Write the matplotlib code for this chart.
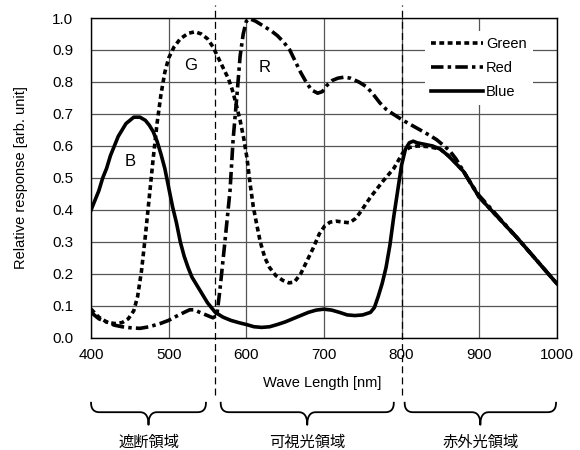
import matplotlib
matplotlib.use("Agg")
import matplotlib.pyplot as plt
import matplotlib.transforms as mtransforms
import numpy as np

plt.rcParams['font.family'] = ['Liberation Sans', 'Noto Sans CJK JP', 'DejaVu Sans']
plt.rcParams['lines.scale_dashes'] = False

# Courbes
wl_blue = [400, 405, 410, 415, 420, 425, 430, 435, 440, 445, 450, 455, 463, 470, 475,
           480, 485, 490, 495, 500, 505, 510, 515, 520, 525, 530, 540, 550, 560, 570,
           580, 590, 600, 610, 620, 630, 640, 650, 660, 670, 680, 690, 700, 710, 720,
           730, 740, 750, 760, 765, 770, 775, 780, 785, 790, 795, 800, 805, 810, 815,
           820, 830, 840, 850, 860, 870, 880, 890, 900, 925, 950, 975, 1000]
blue = [0.40, 0.43, 0.46, 0.50, 0.53, 0.57, 0.60, 0.63, 0.65, 0.67, 0.68, 0.69, 0.69,
        0.68, 0.665, 0.645, 0.615, 0.575, 0.53, 0.47, 0.41, 0.36, 0.30, 0.255, 0.22,
        0.19, 0.15, 0.11, 0.08, 0.065, 0.055, 0.048, 0.042, 0.035, 0.033, 0.035, 0.042,
        0.05, 0.06, 0.07, 0.08, 0.087, 0.09, 0.087, 0.08, 0.072, 0.07, 0.072, 0.08,
        0.095, 0.13, 0.17, 0.22, 0.29, 0.38, 0.46, 0.54, 0.59, 0.61, 0.615, 0.61,
        0.605, 0.60, 0.59, 0.57, 0.545, 0.52, 0.48, 0.44, 0.375, 0.31, 0.24, 0.17]

wl_green = [400, 410, 420, 430, 440, 448, 455, 460, 465, 470, 475, 480, 485, 490, 495,
            500, 507, 515, 525, 534, 542, 550, 557, 563, 570, 577, 582, 587, 592, 597,
            601, 605, 609, 613, 618, 624, 630, 638, 647, 655, 662, 670, 678, 686, 694,
            701, 708, 716, 725, 733, 740, 746, 753, 760, 768, 776, 783, 790, 796, 802,
            810, 820, 835, 850, 865, 880, 900, 950, 1000]
green = [0.09, 0.065, 0.05, 0.045, 0.048, 0.06, 0.085, 0.13, 0.21, 0.32, 0.44, 0.56,
         0.67, 0.76, 0.83, 0.875, 0.91, 0.935, 0.952, 0.957, 0.95, 0.935, 0.91, 0.88,
         0.845, 0.81, 0.775, 0.73, 0.68, 0.62, 0.56, 0.48, 0.41, 0.36, 0.30, 0.25,
         0.22, 0.195, 0.18, 0.172, 0.175, 0.20, 0.24, 0.28, 0.325, 0.35, 0.362, 0.365,
         0.362, 0.36, 0.372, 0.39, 0.415, 0.44, 0.465, 0.49, 0.51, 0.53, 0.555, 0.58,
         0.595, 0.60, 0.598, 0.59, 0.56, 0.52, 0.44, 0.31, 0.17]

wl_red = [400, 410, 420, 430, 440, 450, 463, 475, 489, 500, 510, 520, 527, 533, 540,
          550, 557, 562, 566, 572, 579, 583, 588, 592, 596, 600, 604, 612, 622, 632,
          640, 648, 656, 663, 670, 677, 684, 692, 698, 704, 711, 718, 726, 734, 745,
          755, 764, 772, 780, 789, 802, 813, 824, 835, 845, 855, 862, 870, 880, 890,
          900, 950, 1000]
red = [0.08, 0.06, 0.05, 0.04, 0.035, 0.032, 0.03, 0.035, 0.045, 0.055, 0.068, 0.08,
       0.088, 0.088, 0.08, 0.07, 0.063, 0.07, 0.15, 0.29, 0.46, 0.62, 0.76, 0.88, 0.95,
       0.99, 0.998, 0.99, 0.975, 0.96, 0.945, 0.925, 0.90, 0.865, 0.83, 0.80, 0.775,
       0.765, 0.77, 0.79, 0.805, 0.812, 0.815, 0.812, 0.80, 0.785, 0.76, 0.735, 0.715,
       0.70, 0.68, 0.665, 0.65, 0.635, 0.62, 0.60, 0.585, 0.56, 0.52, 0.48, 0.445,
       0.31, 0.17]

limites = [560, 800]
regions = [(400, 548, "遮断領域"), (567, 790, "可視光領域"), (804, 999, "赤外光領域")]

fig = plt.figure(figsize=(5.8, 4.5), dpi=100)
ax = fig.add_axes([0.157, 0.249, 0.803, 0.711])

ax.plot(wl_green, green, color='black', lw=2.6, linestyle=(0, (3.5, 2.5)), label='Green')
ax.plot(wl_red, red, color='black', lw=2.6, linestyle=(0, (9, 3, 2.5, 3)), label='Red')
ax.plot(wl_blue, blue, color='black', lw=2.6, label='Blue')

ax.set_xlim(400, 1000)
ax.set_ylim(0, 1.0)
ax.set_xticks(np.arange(400, 1001, 100))
ax.set_yticks(np.arange(0, 1.01, 0.1))
ax.set_yticklabels([f"{v:.1f}" for v in np.arange(0, 1.01, 0.1)])
ax.tick_params(length=0, labelsize=11)
ax.tick_params(axis='x', pad=7)
ax.tick_params(axis='y', pad=13)
ax.grid(True, color='#555555', lw=0.9)
for s in ax.spines.values():
    s.set_linewidth(1.0)

ax.set_xlabel("Wave Length [nm]", fontsize=10.5)
ax.xaxis.set_label_coords(0.496, -0.12)
ax.set_ylabel("Relative response [arb. unit]", fontsize=10.5)
ax.yaxis.set_label_coords(-0.135, 0.5)

# lettres B G R
ax.text(450, 0.55, "B", fontsize=12, ha='center', va='center')
ax.text(528, 0.85, "G", fontsize=12, ha='center', va='center')
ax.text(624, 0.845, "R", fontsize=12, ha='center', va='center')

leg = ax.legend(loc='upper left', bbox_to_anchor=(0.717, 0.96), fontsize=10.5,
                handlelength=3.6, handletextpad=0.2, labelspacing=0.7,
                frameon=True, fancybox=False, borderpad=0.4, borderaxespad=0)
leg.get_frame().set_edgecolor('none')
leg.get_frame().set_facecolor('white')
leg.get_frame().set_alpha(1)

# lignes verticales hors axes
trans = mtransforms.blended_transform_factory(ax.transData, ax.transAxes)
for xv in limites:
    ax.plot([xv, xv], [-0.178, 1.04], transform=trans, color='black', lw=0.9,
            linestyle=(0, (5, 3)), clip_on=False, zorder=5)

# accolades
ftrans = mtransforms.blended_transform_factory(ax.transData, fig.transFigure)
def accolade(x0, x1, texte):
    yt, ym, yb = 0.105, 0.084, 0.056
    r = 11
    xc = (x0 + x1) / 2
    t = np.linspace(0, 1, 20)
    def bez(p0, p1, p2):
        return ((1-t)**2*p0[0] + 2*(1-t)*t*p1[0] + t**2*p2[0],
                (1-t)**2*p0[1] + 2*(1-t)*t*p1[1] + t**2*p2[1])
    segs = [bez((x0, yt), (x0, ym), (x0 + r, ym)),
            (np.array([x0 + r, xc - r]), np.array([ym, ym])),
            bez((xc - r, ym), (xc, ym), (xc, yb)),
            bez((xc, yb), (xc, ym), (xc + r, ym)),
            (np.array([xc + r, x1 - r]), np.array([ym, ym])),
            bez((x1 - r, ym), (x1, ym), (x1, yt))]
    xs = np.concatenate([s[0] for s in segs])
    ys = np.concatenate([s[1] for s in segs])
    ax.plot(xs, ys, transform=ftrans, color='black', lw=1.3, clip_on=False)
    ax.text(xc, 0.017, texte, transform=ftrans, ha='center', va='center',
            fontsize=11, family=['Noto Sans CJK JP', 'DejaVu Sans'])

for a, b, nom in regions:
    accolade(a, b, nom)

fig.savefig("out.png", dpi=100)
